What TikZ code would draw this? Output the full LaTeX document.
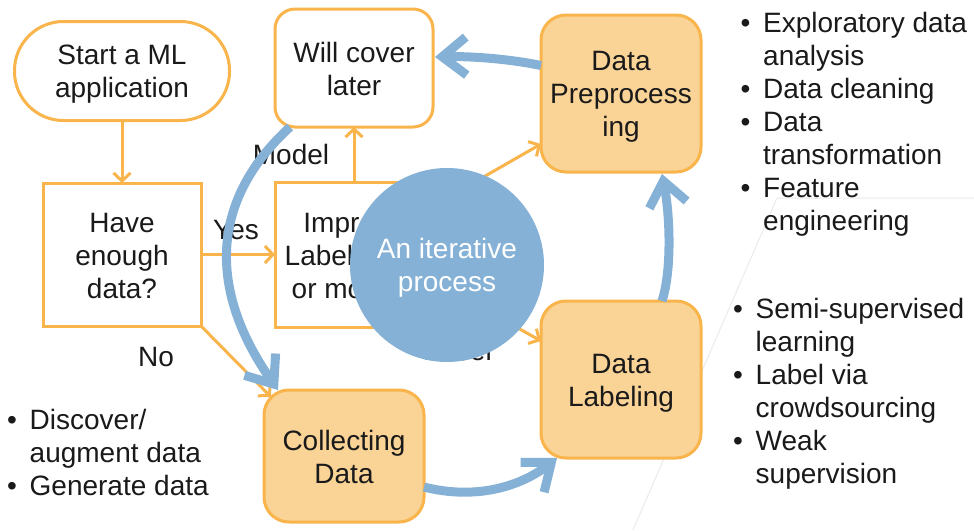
\documentclass[tikz,border=0pt]{standalone}
\usepackage{fontspec}
\usepackage{graphicx}
\setmainfont{Liberation Sans}
\usetikzlibrary{arrows.meta,calc}
\definecolor{orstroke}{HTML}{F9B54C}
\definecolor{orfill}{HTML}{FAD396}
\definecolor{myblue}{HTML}{85B1D6}
\definecolor{txt}{HTML}{1A1A1A}
\definecolor{faint}{HTML}{EBEBEB}
\newcommand\bul{\makebox[22.5pt][l]{•}}
\newcommand\nob{\makebox[22.5pt]{}}
\newcommand\tu{\rule{0pt}{26pt}}
\newcommand\td{\rule[-5pt]{0pt}{5pt}}
\begin{document}
\begin{tikzpicture}[x=1pt,y=-1pt,
  txtfont/.style={font=\fontsize{28}{33}\selectfont, text=txt, align=center},
  obox/.style={draw=orstroke, line width=3pt, fill=white, inner sep=0pt, outer sep=0pt, txtfont},
  fbox/.style={obox, fill=orfill, rounded corners=25pt},
  lbl/.style={txtfont, inner sep=0pt},
  listnode/.style={font=\fontsize{28}{33}\selectfont, text=txt, align=left, inner sep=0pt, anchor=north west},
  oarrow/.style={draw=orstroke, line width=3pt, -{Straight Barb[length=8pt,width=17pt]}},
  barrow/.style={draw=myblue, line width=9pt, -{Straight Barb[length=24pt,width=38pt,sharp]}},
  faintline/.style={draw=faint, line width=1pt}]
\fill[white] (0,0) rectangle (974,530);
\useasboundingbox (0,0) rectangle (974,530);

% faint background lines
\coordinate (g1) at (777,198);
\coordinate (g2) at (974,198);
\coordinate (g3) at (633,530);
\draw[faintline] (g2) -- (g1) -- (g3);

% boxes
\node[obox, rounded corners=49pt, minimum width=215pt, minimum height=99pt] (start) at (122,71) {\tu Start a ML\\application\td};
\node[obox, minimum width=158pt, minimum height=143pt] (have) at (122,254.5) {\tu Have\\enough\\data?\td};
\node[obox, rounded corners=20pt, minimum width=158pt, minimum height=118pt] (will) at (354,68) {\tu Will cover\\later\td};
\node[obox, minimum width=158pt, minimum height=145pt] (improve) at (354,254.5) {\tu Improve\\Label, data\\or model?\td};
\node[fbox, minimum width=160pt, minimum height=157pt] (prep) at (621,93.5) {\tu Data\\Preprocess\\ing\td};
\node[fbox, minimum width=160pt, minimum height=157pt] (label) at (621,379.5) {\tu Data\\Labeling\td};
\node[fbox, minimum width=160pt, minimum height=132pt] (coll) at (344,456) {\tu Collecting\\Data\td};

% orange connectors
\draw[oarrow] (start.south) -- (have.north);
\draw[oarrow] (have.east) -- (improve.west);
\draw[oarrow] (have.south east) -- ($(coll.north west)+(7,7)$);
\draw[oarrow] (improve.north) -- (will.south);
\draw[oarrow] ($(improve.north east)+(0,24)$) -- ($(prep.south west)+(0,-28)$);
\draw[oarrow] ($(improve.south east)+(0,-47)$) -- ($(label.north west)+(0,40)$);

% labels
\node[lbl] (yes) at (236,230) {Yes};
\node[lbl] (no) at (156,357) {No};
\node[lbl] (model) at (291,154) {Model};
\node[lbl, anchor=east] (dlab) at (522,207) {Data};
\node[lbl, anchor=base east] (llab) at (492,360) {Label};

% circle
\node[circle, fill=myblue, minimum size=194pt, inner sep=0pt, txtfont, text=white] (iter) at (447,265) {\tu An iterative\\process\td};

% blue cycle arrows
\draw[barrow] ($(coll.south east)+(0,-35)$) .. controls (475,500) and (520,487) .. ($(label.south west)+(16,0)$);
\draw[barrow] ($(label.north)+(41,0)$) .. controls (672,270) and (670,215) .. ($(prep.south)+(41,2)$);
\draw[barrow] ($(prep.west)+(0,-28)$) .. controls (510,59) and (470,56) .. ($(will.east)+(2,-11)$);
\draw[barrow] ($(will.south west)+(15,0)$) .. controls (205,205) and (212,296) .. ($(coll.north west)+(14,0)$);

% lists
\node[listnode] (list1) at (740.5,12) {\bul Exploratory data\\\nob analysis\\\bul Data cleaning\\\bul Data\\\nob transformation\\\bul Feature\\\nob engineering};
\node[listnode] (list2) at (733,298) {\bul Semi-supervised\\\nob learning\\\bul Label via\\\nob crowdsourcing\\\bul Weak\\\nob supervision};
\node[listnode] (list3) at (7,409) {\bul Discover/\\\nob augment data\\\bul Generate data};
\end{tikzpicture}
\end{document}
